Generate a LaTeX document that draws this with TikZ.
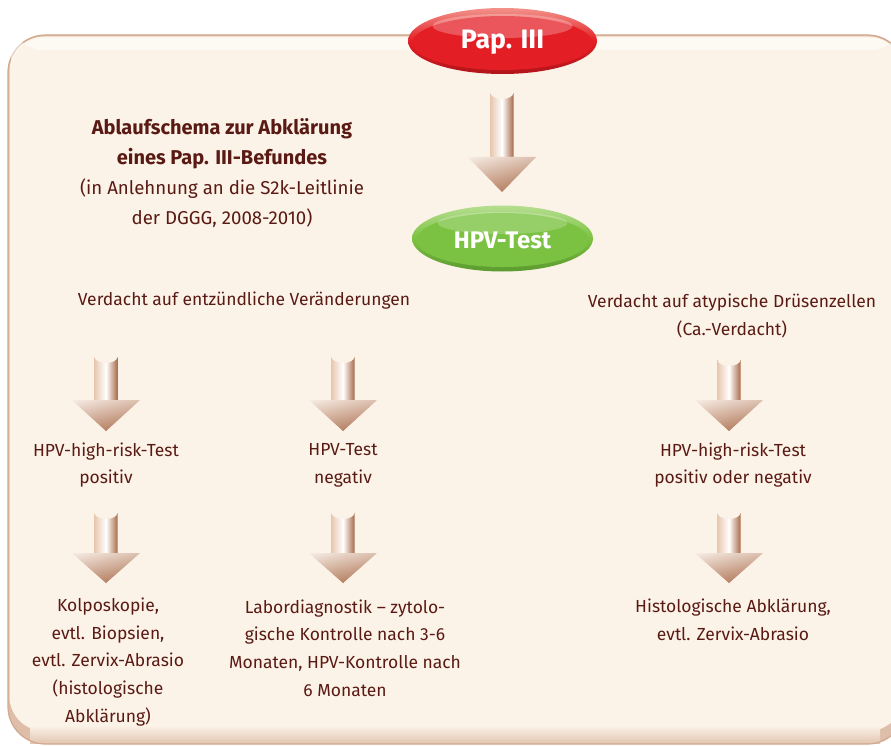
\documentclass[tikz,border=0pt]{standalone}
\usepackage{fontspec}
\setmainfont{Fira Sans}
\usetikzlibrary{shapes.geometric,shadows}
\definecolor{txt}{HTML}{5A1A14}
\definecolor{boxfill}{HTML}{FCF3E8}
\definecolor{boxline}{HTML}{D2A88E}
\definecolor{arlight}{HTML}{E8C8B0}
\definecolor{ardark}{HTML}{A86A48}
\definecolor{pap}{HTML}{E41E25}
\definecolor{papdark}{HTML}{B0141A}
\definecolor{paplight}{HTML}{F2928A}
\definecolor{hpv}{HTML}{7CC242}
\definecolor{hpvdark}{HTML}{5C9A2F}
\definecolor{hpvlight}{HTML}{B6DE90}
\newcommand{\blockarrow}[5]{%
  % #1 name, #2 x, #3 top y, #4 shaft bottom y, #5 tip y
  \coordinate (#1-top) at (#2,#3);
  \coordinate (#1-tip) at (#2,#5);
  \shade[left color=arlight, right color=ardark, middle color=white]
    (#2-11.5,#3+6) -- (#2-11.5,#4+2) -- (#2+11.5,#4+2) -- (#2+11.5,#3+6)
    arc[start angle=0,end angle=180,x radius=11.5,y radius=6] -- cycle;
  \shade[top color=white!70!arlight, bottom color=ardark]
    (#2-34,#4) -- (#2+34,#4) -- (#1-tip) -- cycle;
  \shade[left color=white!60!arlight, right color=ardark, opacity=0.35]
    (#2-34,#4) -- (#2+34,#4) -- (#1-tip) -- cycle;
}
\tikzset{
  body/.style={font=\fontsize{13.1}{20.8}\selectfont, text=txt, align=center, inner sep=0pt},
  titletxt/.style={font=\fontsize{14}{22.6}\selectfont, text=txt, align=center, inner sep=0pt},
}
\begin{document}
\begin{tikzpicture}[x=0.75pt,y=-0.75pt]
\useasboundingbox (0,0) rectangle (891,745);
\clip (0,0) rectangle (891,745);
\fill[white] (0,0) rectangle (891,745);
% background box
\fill[boxline!70!boxfill, rounded corners=28] (8,35) rectangle (905,744);
\fill[boxfill, rounded corners=26] (9.5,36.5) rectangle (903,731);
\shade[top color=boxfill, bottom color=boxline!60!boxfill] (30,725) rectangle (880,743);
\draw[boxline, line width=0.9pt, rounded corners=28] (8,35) rectangle (905,744);
\fill[white, opacity=0.5, rounded corners=24] (11,38) rectangle (903,50);

% Pap. III pill
\shade[top color=paplight, bottom color=papdark, middle color=pap]
  (502.5,41) ellipse [x radius=94.5, y radius=33];
\fill[pap] (502.5,43) ellipse [x radius=90, y radius=27];
\fill[white, opacity=0.25] (502.5,26) ellipse [x radius=70, y radius=12];
\node[font=\fontsize{20}{24}\selectfont\bfseries, text=white] (pap) at (502.5,42) {Pap. III};

% HPV-Test pill
\shade[top color=hpvlight, bottom color=hpvdark, middle color=hpv]
  (502.5,238.5) ellipse [x radius=90.5, y radius=33];
\fill[hpv] (502.5,240) ellipse [x radius=86, y radius=27];
\fill[white, opacity=0.2] (502.5,223) ellipse [x radius=65, y radius=11];
\node[font=\fontsize{18}{22}\selectfont\bfseries, text=white] (hpv) at (502.5,240) {HPV-Test};

\blockarrow{a0}{502}{87}{157}{192}

% title
\node[titletxt] (title) at (222,173) {{\fontsize{15}{22.6}\selectfont\bfseries Ablaufschema zur Abklärung}\\
  {\fontsize{15}{22.6}\selectfont\bfseries eines Pap. III-Befundes}\\
  (in Anlehnung an die S2k-Leitlinie\\
  der DGGG, 2008-2010)};

\node[body] (vl) at (244,301) {Verdacht auf entzündliche Veränderungen};
\node[body] (vr) at (732,316) {Verdacht auf atypische Drüsenzellen\\(Ca.-Verdacht)};

\blockarrow{a1}{106}{351}{400}{431}
\blockarrow{a2}{343}{351}{400}{431}
\blockarrow{a3}{729}{354}{400}{431}

\node[body] (l2) at (106,465) {HPV-high-risk-Test\\positiv};
\node[body] (m2) at (343,465) {HPV-Test\\negativ};
\node[body] (r2) at (733,465) {HPV-high-risk-Test\\positiv oder negativ};

\blockarrow{b1}{106}{507}{553}{583}
\blockarrow{b2}{343}{507}{553}{583}
\blockarrow{b3}{729}{507}{553}{583}

\node[body] (l3) at (108,662) {Kolposkopie,\\evtl. Biopsien,\\evtl. Zervix-Abrasio\\(histologische\\Abklärung)};
\node[body] (m3) at (345,648) {Labordiagnostik -- zytolo-\\gische Kontrolle nach 3-6\\Monaten, HPV-Kontrolle nach\\6 Monaten};
\node[body] (r3) at (733,620) {Histologische Abklärung,\\evtl. Zervix-Abrasio};
\end{tikzpicture}
\end{document}
